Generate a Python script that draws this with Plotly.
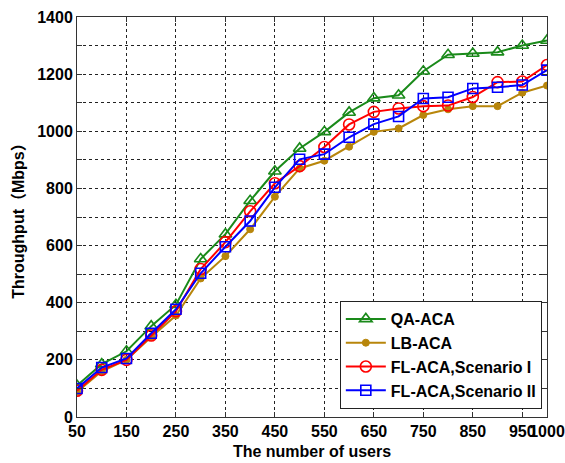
import plotly.graph_objects as go

users = [50, 100, 150, 200, 250, 300, 350, 400, 450, 500, 550, 600, 650, 700, 750, 800, 850, 900, 950, 1000]

qa_aca = [110, 185, 230, 318, 393, 553, 640, 757, 860, 940, 998, 1066, 1116, 1126, 1210, 1268, 1272, 1277, 1300, 1318]
lb_aca = [88, 160, 200, 280, 355, 485, 563, 657, 771, 870, 897, 946, 998, 1010, 1057, 1077, 1088, 1088, 1135, 1160]
fl_aca_1 = [92, 165, 200, 285, 370, 518, 612, 720, 818, 878, 945, 1024, 1068, 1080, 1088, 1090, 1120, 1172, 1174, 1232]
fl_aca_2 = [100, 173, 205, 293, 377, 503, 596, 686, 804, 902, 920, 979, 1025, 1052, 1115, 1119, 1150, 1154, 1162, 1214]

series_names = ["QA-ACA", "LB-ACA", "FL-ACA,Scenario I", "FL-ACA,Scenario II"]

x_tickvals = [50, 150, 250, 350, 450, 550, 650, 750, 850, 950, 1000]
y_tickvals = list(range(0, 1401, 100))
y_ticktext = [str(v) if v % 200 == 0 else "" for v in y_tickvals]

FONT = "Liberation Sans, Arial, Noto Sans CJK SC, sans-serif"

fig = go.Figure()
styles = [
    (qa_aca, "#1a8a1a", "triangle-up-open", 11, 1.6),
    (lb_aca, "#b8860b", "circle", 7, 1),
    (fl_aca_1, "#ff0000", "circle-open", 11, 1.6),
    (fl_aca_2, "#0000ff", "square-open", 10, 1.6),
]
for (vals, col, sym, size, mlw), name in zip(styles, series_names):
    fig.add_trace(go.Scatter(
        x=users, y=vals, name=name, mode="lines+markers",
        line=dict(color=col, width=2),
        marker=dict(symbol=sym, size=size, color=col, line=dict(color=col, width=mlw)),
    ))

axis_common = dict(
    showline=True, linecolor="#333333", linewidth=1, mirror="ticks",
    ticks="inside", ticklen=5, tickcolor="#333333",
    showgrid=True, gridcolor="#222222", griddash="dot", gridwidth=1,
    zeroline=False,
    tickfont=dict(family=FONT, size=16, color="black", weight="bold"),
)

fig.update_xaxes(
    **axis_common,
    range=[50, 1000], tickmode="array", tickvals=x_tickvals,
    ticktext=[str(v) for v in x_tickvals], tickangle=0,
    title=dict(text="The number of users", font=dict(family=FONT, size=16, color="black", weight="bold"), standoff=6),
)
fig.update_yaxes(
    **axis_common,
    range=[0, 1400], tickmode="array", tickvals=y_tickvals, ticktext=y_ticktext,
    title=dict(text="Throughput（Mbps）", font=dict(family=FONT, size=16, color="black", weight="bold"), standoff=8),
)

fig.update_layout(
    width=565, height=463,
    margin=dict(l=77, r=18, t=17, b=46, autoexpand=False),
    paper_bgcolor="white", plot_bgcolor="white",
    showlegend=True,
    legend=dict(
        x=0.989, y=0.02, xanchor="right", yanchor="bottom",
        bgcolor="white", bordercolor="#222222", borderwidth=1,
        font=dict(family=FONT, size=16, color="black", weight="bold"),
        itemwidth=40, tracegroupgap=0,
    ),
)

fig.write_html("out.html")
